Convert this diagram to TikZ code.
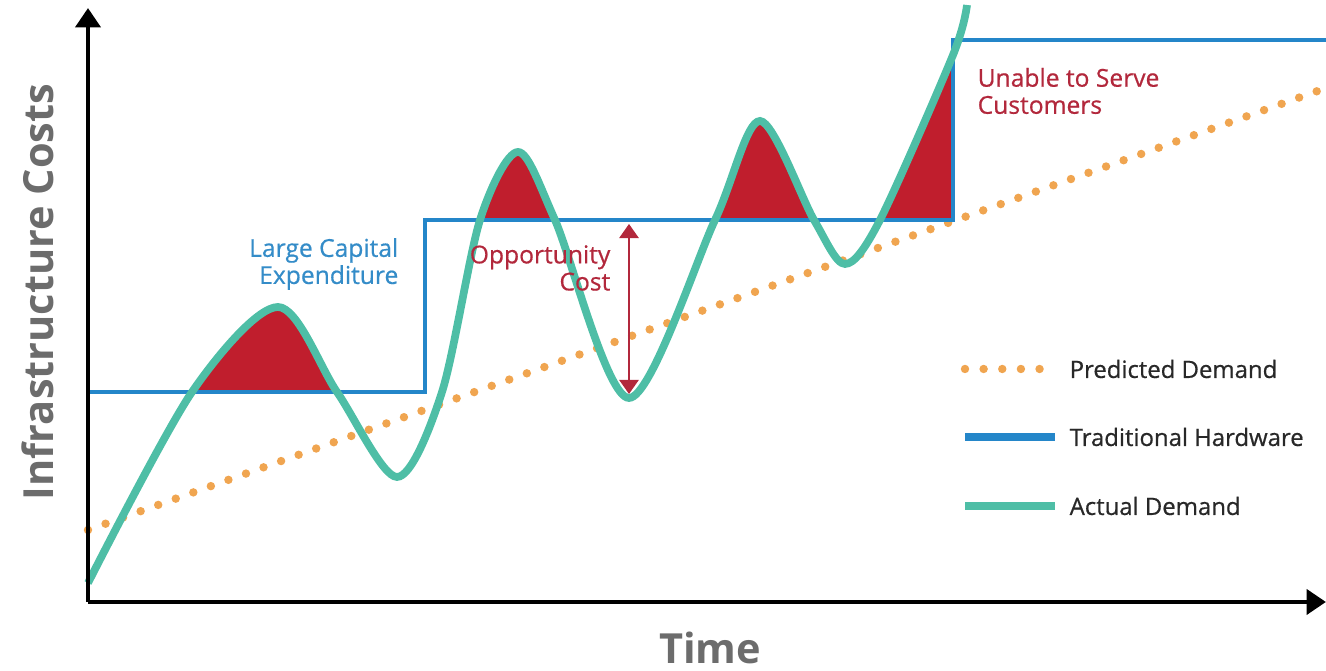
\documentclass[tikz,border=0pt]{standalone}
\usepackage{fontspec}
\setmainfont{Open Sans}
\newfontfamily\semibold[FakeBold=0.6]{Open Sans}
\usetikzlibrary{arrows.meta}

\definecolor{hwblue}{RGB}{36,134,201}
\definecolor{demandteal}{RGB}{78,190,166}
\definecolor{costred}{RGB}{192,30,45}
\definecolor{predorange}{RGB}{240,165,80}
\definecolor{bluetext}{RGB}{52,140,200}
\definecolor{redtext}{RGB}{178,40,60}
\definecolor{axisgray}{RGB}{108,108,108}
\definecolor{legendtext}{RGB}{40,40,40}

\begin{document}
\begin{tikzpicture}[x=0.01cm,y=-0.01cm,
	axisline/.style={line width=1.4pt,-{Triangle[length=5.5pt,width=7pt]}},
	hardware/.style={hwblue,line width=1.4pt,line join=miter},
	actual/.style={demandteal,line width=2.2pt},
	predicted/.style={predorange,line width=2.4pt,line cap=round,dash pattern=on 0pt off 5.3pt},
	smalllabel/.style={inner sep=0pt,font=\semibold\fontsize{7}{7.7}\selectfont},
	legendlabel/.style={inner sep=0pt,anchor=west,text=legendtext,font=\semibold\fontsize{6.8}{8}\selectfont},
	axislabel/.style={inner sep=0pt,text=axisgray,font=\fontsize{11.8}{14}\selectfont\bfseries}]
	\useasboundingbox (0,0) rectangle (1326,671);

	% Red areas where demand is above the hardware
	\begin{scope}
		\clip (88,392) -- (425,392) -- (425,220) -- (953,220) -- (953,0) -- (88,0) -- cycle;
		\fill[costred] plot[smooth] coordinates {(88,583) (192,392) (278,307) (337,392) (397,477) (442,392) (480,220) (518,152) (555,220) (629,398) (715,220) (760,121) (814,220) (845,264) (880,220) (953,55) (967,5)} -- (967,602) -- (88,602) -- cycle;
	\end{scope}

	% Predicted demand
	\draw[predicted] (88,530) -- (1326,88);

	% Traditional hardware
	\draw[hardware] (88,392) -- (425,392) -- (425,220) -- (953,220) -- (953,40) -- (1326,40);

	% Actual demand
	\draw[actual] plot[smooth] coordinates {(88,583) (192,392) (278,307) (337,392) (397,477) (442,392) (480,220) (518,152) (555,220) (629,398) (715,220) (760,121) (814,220) (845,264) (880,220) (953,55) (967,5)};

	% Axes
	\coordinate (origin) at (88,602);
	\coordinate (ytip) at (88,8);
	\coordinate (xtip) at (1326,602);
	\draw[axisline] (origin) -- (ytip);
	\draw[axisline] (origin) -- (xtip);
	\node[axislabel,anchor=base] (timelabel) at (710,664) {Time};
	\node[axislabel,rotate=90] (costlabel) at (38,292) {Infrastructure Costs};

	% Labels
	\node[smalllabel,text=bluetext,align=right,anchor=east] (capex) at (399,264) {Large Capital\\Expenditure};
	\node[smalllabel,text=redtext,align=right,anchor=east] (opportunity) at (611,268) {Opportunity\\Cost};
	\node[smalllabel,text=redtext,align=left,anchor=west] (unable) at (977,91) {Unable to Serve\\Customers};
	\coordinate (opptop) at (629,224);
	\coordinate (oppbottom) at (629,394);
	\draw[redtext,line width=0.5pt,{Triangle[length=4pt,width=5.5pt]}-{Triangle[length=4pt,width=5.5pt]}] (opptop) -- (oppbottom);

	% Legend
	\draw[predicted] (965,369) coordinate (predleft) -- (1055,369) coordinate (predright);
	\node[legendlabel] (predtext) at (1069,369) {Predicted Demand};
	\draw[hwblue,line width=2pt] (965,437) coordinate (hwleft) -- (1055,437) coordinate (hwright);
	\node[legendlabel] (hwtext) at (1069,437) {Traditional Hardware};
	\draw[demandteal,line width=2pt] (965,506) coordinate (actleft) -- (1055,506) coordinate (actright);
	\node[legendlabel] (acttext) at (1069,506) {Actual Demand};
\end{tikzpicture}
\end{document}
